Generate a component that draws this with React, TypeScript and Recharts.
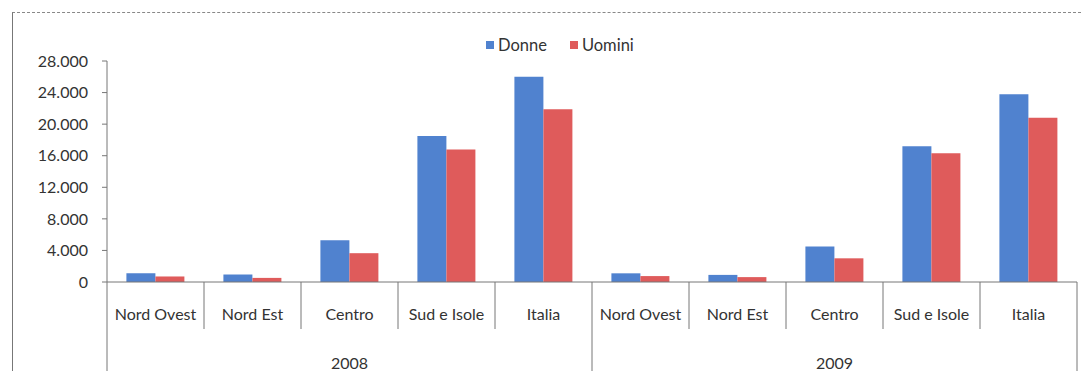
import { BarChart, Bar, XAxis, YAxis, Legend } from "recharts";

const regions = ["Nord Ovest", "Nord Est", "Centro", "Sud e Isole", "Italia"];
const years = ["2008", "2009"];
const donne2008 = [1100, 950, 5300, 18500, 26000];
const uomini2008 = [700, 520, 3650, 16800, 21900];
const donne2009 = [1100, 900, 4500, 17200, 23800];
const uomini2009 = [750, 620, 3000, 16300, 20800];
const yTicks = [0, 4000, 8000, 12000, 16000, 20000, 24000, 28000];

const BLUE = "#5082cf";
const RED = "#df5b5b";
const FONT = "Lato, 'Open Sans', sans-serif";

const data = years.flatMap((year, yi) =>
  regions.map((region, ri) => ({
    key: `${year} ${region}`,
    region,
    year,
    Donne: yi === 0 ? donne2008[ri] : donne2009[ri],
    Uomini: yi === 0 ? uomini2008[ri] : uomini2009[ri],
  })),
);

const W = 1091;
const H = 371;
const MARGIN = { top: 61, right: 14, bottom: 0, left: 47 };
const Y_W = 60;
const X_H = 89;
const CAT_W = (W - MARGIN.left - MARGIN.right - Y_W) / data.length;

const fmt = (v: number) => String(v).replace(/\B(?=(\d{3})+(?!\d))/g, ".");

const CategoryTick = (props: any) => {
  const { x, y, index } = props;
  const row = data[index];
  if (!row) return null;
  const left = x - CAT_W / 2;
  const right = x + CAT_W / 2;
  const groupStart = index % regions.length === 0;
  const last = index === data.length - 1;
  return (
    <g>
      <line x1={left} y1={y} x2={left} y2={groupStart ? y + X_H : y + 47} stroke="#777" />
      {last && <line x1={right} y1={y} x2={right} y2={y + X_H} stroke="#777" />}
      <text x={x} y={y + 31} textAnchor="middle" dominantBaseline="central" fontSize={16} fill="#333" fontFamily={FONT}>
        {row.region}
      </text>
      {index % regions.length === 2 && (
        <text x={x} y={y + 80} textAnchor="middle" dominantBaseline="central" fontSize={16} fill="#333" fontFamily={FONT}>
          {row.year}
        </text>
      )}
    </g>
  );
};

const LegendContent = (props: any) => (
  <div style={{ display: "flex", alignItems: "center", fontFamily: FONT, fontSize: 16.5, color: "#333" }}>
    {(props.payload || []).map((p: any) => (
      <span key={p.value} style={{ display: "flex", alignItems: "center", marginRight: 23 }}>
        <span style={{ width: 8, height: 8, background: p.color, marginRight: 4, display: "inline-block" }} />
        {p.value}
      </span>
    ))}
  </div>
);

export default function App() {
  return (
    <div style={{ position: "absolute", left: 0, top: 0, width: W, height: H, background: "#fff", overflow: "hidden" }}>
      <div
        style={{
          position: "absolute",
          left: 12,
          top: 12,
          width: 1068,
          height: H,
          borderLeft: "1px solid #777",
          borderTop: "1px dashed #888",
        }}
      />
      <BarChart width={W} height={H} data={data} margin={MARGIN} barCategoryGap="20%" barGap={0}>
        <XAxis
          dataKey="key"
          height={X_H}
          interval={0}
          tickSize={0}
          tickMargin={0}
          tickLine={false}
          axisLine={{ stroke: "#777" }}
          tick={<CategoryTick />}
        />
        <YAxis
          width={Y_W}
          domain={[0, 28000]}
          ticks={yTicks}
          tickFormatter={fmt}
          tickSize={5}
          tickMargin={14}
          tickLine={{ stroke: "#777" }}
          axisLine={{ stroke: "#777" }}
          tick={{ fill: "#333", fontSize: 16, fontFamily: FONT }}
        />
        <Legend
          verticalAlign="middle"
          align="center"
          content={<LegendContent />}
          wrapperStyle={{ top: 35, left: 486, width: 220 }}
        />
        <Bar dataKey="Donne" fill={BLUE} isAnimationActive={false} />
        <Bar dataKey="Uomini" fill={RED} isAnimationActive={false} />
      </BarChart>
    </div>
  );
}
